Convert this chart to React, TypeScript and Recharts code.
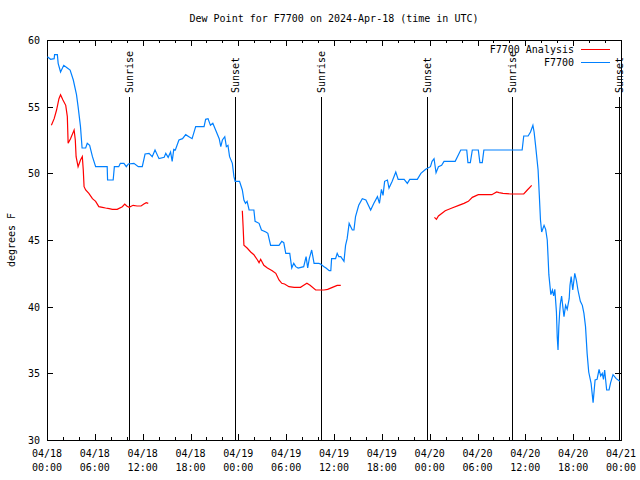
import React from 'react';
import { LineChart, Line, XAxis, YAxis, ReferenceLine, ReferenceArea, Legend } from 'recharts';

// hours since 04/18 00:00 UTC
const obsHours = [
  0.05, 0.45, 0.9, 0.95, 1.3, 1.4, 1.7, 2.1, 2.55, 2.9, 3.3, 3.7, 3.9, 4.2, 4.4, 4.85, 5.05, 5.35, 5.7, 6.1,
  7.55, 7.6, 8.3, 8.45, 9.0, 9.2, 9.65, 9.95, 10.2, 10.9, 11.45, 11.95, 12.3, 12.8, 13.2, 13.55, 14.05, 14.7,
  14.9, 15.2, 15.5, 15.7, 15.9, 16.1, 16.55, 17.0, 17.4, 17.8, 18.2, 18.65, 19.7, 19.9, 20.2, 20.5, 20.8,
  21.15, 21.6, 21.8, 22.0, 22.3, 22.5, 22.7, 22.9, 23.25, 23.45, 23.6, 24.15, 24.5, 24.7, 24.9, 25.1, 25.35,
  25.95, 26.1, 26.6, 26.9, 27.45, 27.7, 28.05, 29.1, 29.45, 29.7, 29.95, 30.45, 30.7, 30.95, 31.2, 31.5,
  32.2, 32.5, 32.7, 32.9, 33.2, 33.5, 34.1, 34.3, 34.75, 35.0, 35.4, 35.6, 35.7, 36.2, 36.4, 36.6, 36.85,
  37.25, 37.45, 37.65, 37.9, 38.1, 38.3, 38.5, 38.7, 39.1, 39.55, 40.0, 40.6, 41.0, 41.45, 41.7, 41.95,
  42.15, 42.35, 42.7, 42.9, 43.3, 43.75, 44.05, 44.8, 45.2, 45.5, 46.45, 46.9, 47.5, 48.1, 48.3, 48.55,
  48.8, 49.1, 49.5, 49.8, 51.2, 51.7, 51.9, 52.65, 52.8, 53.1, 53.35, 54.1, 54.3, 54.6, 54.8, 59.6, 59.8,
  60.35, 60.65, 60.95, 61.1, 61.3, 61.6, 61.75, 61.9, 62.05, 62.35, 62.55, 62.75, 62.85, 62.95, 63.2, 63.4,
  63.55, 63.7, 63.9, 64.0, 64.1, 64.2, 64.3, 64.4, 64.55, 64.7, 64.85, 65.05, 65.25, 65.5, 65.6, 65.75,
  65.95, 66.2, 66.4, 66.6, 66.9, 67.15, 67.35, 67.55, 67.75, 67.95, 68.25, 68.5, 68.75, 69.0, 69.25, 69.45,
  69.65, 69.8, 69.95, 70.2, 70.5, 70.7, 71.0, 71.4, 71.85,
];
const obsDew = [
  58.75, 58.55, 58.6, 58.9, 58.9, 58.25, 57.6, 58.1, 57.9, 57.75, 57.0, 55.9, 55.0, 53.5, 51.9, 51.9, 52.25, 52.1, 51.25, 50.5,
  50.5, 49.5, 49.5, 50.5, 50.5, 50.75, 50.75, 50.5, 50.7, 50.75, 50.5, 50.5, 51.45, 51.5, 51.25, 51.75, 51.1, 51.2,
  51.5, 51.2, 51.6, 50.9, 51.8, 51.75, 52.5, 52.6, 52.9, 52.75, 52.6, 53.5, 53.5, 54.05, 54.1, 53.6, 53.75,
  53.25, 52.6, 52.0, 52.5, 52.75, 52.0, 52.1, 51.25, 50.75, 49.75, 49.4, 49.4, 48.75, 48.0, 47.75, 47.9, 47.25,
  47.25, 46.4, 46.25, 45.75, 45.6, 45.5, 44.6, 44.6, 44.9, 44.8, 44.0, 44.0, 42.9, 43.25, 43.0, 42.9,
  43.0, 43.75, 42.9, 43.6, 44.25, 43.25, 43.25, 43.2, 43.0, 42.9, 42.7, 42.7, 43.6, 43.6, 44.0, 43.75, 43.75,
  43.4, 44.6, 45.1, 46.25, 46.0, 45.75, 45.75, 46.75, 47.6, 48.1, 48.0, 47.25, 47.75, 48.25, 47.75, 48.8,
  48.35, 49.4, 49.5, 48.9, 49.4, 50.1, 49.55, 49.55, 49.25, 49.55, 49.55, 50.0, 50.3, 50.5, 50.9, 51.1,
  50.05, 50.5, 50.6, 50.9, 50.9, 51.5, 51.75, 51.75, 50.8, 50.8, 51.75, 51.75, 50.8, 50.8, 51.75, 51.75, 52.8,
  52.8, 53.1, 53.6, 53.1, 52.0, 50.25, 48.4, 46.5, 45.6, 46.1, 45.8, 45.0, 43.75, 42.4, 40.9, 41.25,
  40.8, 41.3, 39.6, 37.75, 36.75, 38.5, 39.5, 40.25, 40.8, 40.0, 39.25, 40.1, 39.8, 40.6, 41.6, 42.25,
  41.25, 42.5, 42.0, 41.25, 40.4, 40.1, 39.5, 38.5, 36.5, 35.1, 34.25, 32.8, 34.5, 34.55, 35.3, 34.8,
  35.0, 34.55, 35.25, 33.75, 33.75, 34.3, 34.9, 34.6, 34.4,
];

// analysis has gaps (null)
const anaHours = [
  0.55, 0.9, 1.2, 1.5, 1.7, 2.0, 2.35, 2.55, 2.65, 2.95, 3.4, 3.55, 3.65, 3.9, 4.2, 4.43, 4.55, 4.65, 4.85,
  5.25, 5.7, 6.1, 6.5, 6.95, 7.35, 7.8, 8.2, 8.8, 9.45, 9.75, 10.0, 10.3, 10.8, 11.3, 11.8, 12.15, 12.45, 12.7,
  18.0,
  24.5, 24.6, 24.7, 25.1, 25.55, 25.95, 26.4, 26.6, 26.8, 27.2, 27.65, 28.25, 28.7, 29.1, 29.45, 29.8, 30.35,
  31.0, 31.8, 32.2, 32.6, 33.0, 33.7, 34.75, 35.2, 35.8, 36.4, 36.85,
  42.0,
  48.6, 48.85, 49.1, 49.95, 50.8, 51.65, 52.3, 52.85, 53.35, 54.1, 55.8, 56.4, 56.7, 57.2, 58.15, 59.8, 60.25, 60.8,
];
const anaDew = [
  53.6, 54.1, 54.75, 55.6, 55.9, 55.5, 55.1, 54.25, 52.25, 52.6, 53.25, 52.5, 51.25, 50.5, 51.0, 51.25, 50.25, 49.0, 48.75,
  48.5, 48.1, 47.9, 47.5, 47.45, 47.4, 47.35, 47.3, 47.3, 47.5, 47.7, 47.55, 47.45, 47.6, 47.55, 47.55, 47.7, 47.8, 47.75,
  null,
  47.2, 46.0, 44.6, 44.4, 44.1, 43.9, 43.5, 43.3, 43.55, 43.1, 42.9, 42.7, 42.5, 42.0, 41.75, 41.7, 41.5,
  41.45, 41.45, 41.6, 41.75, 41.6, 41.25, 41.25, 41.3, 41.45, 41.6, 41.6,
  null,
  46.7, 46.55, 46.8, 47.2, 47.4, 47.6, 47.75, 47.9, 48.2, 48.4, 48.4, 48.6, 48.55, 48.5, 48.45, 48.45, 48.75, 49.1,
];

const sunHours = [10.3, 23.62, 34.42, 47.7, 58.36, 71.76];
const sunNames = ['Sunrise', 'Sunset', 'Sunrise', 'Sunset', 'Sunrise', 'Sunset'];

const dayLabels = ['04/18', '04/18', '04/18', '04/18', '04/19', '04/19', '04/19', '04/19', '04/20', '04/20', '04/20', '04/20', '04/21'];
const timeLabels = ['00:00', '06:00', '12:00', '18:00'];
const xTicks = Array.from({ length: 37 }, (_, i) => i * 2);
const yTicks = [30, 35, 40, 45, 50, 55, 60];

const obsRows = obsHours.map((h, i) => ({ h, v: obsDew[i] }));
const anaRows = anaHours.map((h, i) => ({ h, v: anaDew[i] }));

const FONT = '"DejaVu Sans Mono", monospace';
const TOP = 40;
const BOTTOM = 440;
const LEFT = 47;
const RIGHT = 621;

const XTick = (props: any) => {
  const { x, payload } = props;
  const h = payload.value;
  const major = h % 6 === 0;
  const len = major ? 6 : 3;
  const px = Math.round(x) + 0.5;
  return (
    <g shapeRendering="crispEdges">
      <line x1={px} y1={BOTTOM} x2={px} y2={BOTTOM - len} stroke="#000" />
      <line x1={px} y1={TOP} x2={px} y2={TOP + len} stroke="#000" />
      {major && (
        <text x={x} y={BOTTOM + 17} textAnchor="middle" fontFamily={FONT} fontSize={10} fill="#000">
          <tspan x={x}>{dayLabels[h / 6]}</tspan>
          <tspan x={x} dy={14}>{timeLabels[(h / 6) % 4]}</tspan>
        </text>
      )}
    </g>
  );
};

const YTick = (props: any) => {
  const { y, payload } = props;
  const py = Math.round(y) + 0.5;
  return (
    <g shapeRendering="crispEdges">
      <line x1={LEFT} y1={py} x2={LEFT + 6} y2={py} stroke="#000" />
      <line x1={RIGHT} y1={py} x2={RIGHT - 6} y2={py} stroke="#000" />
      <text x={LEFT - 7} y={y + 4} textAnchor="end" fontFamily={FONT} fontSize={10} fill="#000">
        {payload.value}
      </text>
    </g>
  );
};

const SunLabel = (props: any) => {
  const x = props.viewBox.x + 4;
  const y = 93;
  return (
    <text x={x} y={y} transform={`rotate(-90 ${x} ${y})`} fontFamily={FONT} fontSize={10} fill="#000">
      {props.value}
    </text>
  );
};

const LegendBox = () => (
  <svg width={150} height={28} shapeRendering="crispEdges">
    <text x={104} y={11} textAnchor="end" fontFamily={FONT} fontSize={10} fill="#000">F7700 Analysis</text>
    <line x1={111} y1={7.5} x2={140} y2={7.5} stroke="#ff0000" />
    <text x={104} y={24} textAnchor="end" fontFamily={FONT} fontSize={10} fill="#000">F7700</text>
    <line x1={111} y1={20.5} x2={140} y2={20.5} stroke="#0080ff" />
  </svg>
);

export default function App() {
  return (
    <div style={{ position: 'absolute', left: 0, top: 0, width: 640, height: 480, background: '#fff' }}>
      <div style={{ position: 'absolute', top: 13, left: LEFT, width: RIGHT - LEFT, textAlign: 'center', fontFamily: FONT, fontSize: 10 }}>
        Dew Point for F7700 on 2024-Apr-18 (time in UTC)
      </div>
      <div style={{ position: 'absolute', left: 4, top: 240, transform: 'translate(0, -50%) rotate(-90deg)', transformOrigin: 'center', fontFamily: FONT, fontSize: 10, whiteSpace: 'nowrap', width: 14, display: 'flex', justifyContent: 'center' }}>
        degrees F
      </div>
      <LineChart width={640} height={480} margin={{ top: TOP, right: 640 - RIGHT, left: 0, bottom: 0 }}>
        <XAxis
          type="number"
          dataKey="h"
          domain={[0, 72]}
          ticks={xTicks}
          interval={0}
          tick={<XTick />}
          tickLine={false}
          tickSize={0}
          tickMargin={0}
          axisLine={false}
          height={480 - BOTTOM}
          allowDataOverflow
        />
        <YAxis
          type="number"
          domain={[30, 60]}
          ticks={yTicks}
          interval={0}
          tick={<YTick />}
          tickLine={false}
          tickSize={0}
          tickMargin={0}
          axisLine={false}
          width={LEFT}
          allowDataOverflow
        />
        <ReferenceArea x1={0} x2={72} y1={30} y2={60} fill="none" stroke="#000" strokeWidth={1} shapeRendering="crispEdges" />
        {sunHours.map((h, i) => (
          <ReferenceLine
            key={i}
            segment={[{ x: h, y: 30 }, { x: h, y: 55.7 }]}
            stroke="#000"
            strokeWidth={1}
            shapeRendering="crispEdges"
            label={<SunLabel value={sunNames[i]} />}
          />
        ))}
        <Line data={anaRows} dataKey="v" type="linear" stroke="#ff0000" strokeWidth={1.2} dot={false} connectNulls={false} isAnimationActive={false} />
        <Line data={obsRows} dataKey="v" type="linear" stroke="#0080ff" strokeWidth={1.2} dot={false} isAnimationActive={false} />
        <Legend
          layout="horizontal"
          verticalAlign="middle"
          content={<LegendBox />}
          wrapperStyle={{ top: 42, left: 470, width: 150, height: 28 }}
        />
      </LineChart>
    </div>
  );
}
